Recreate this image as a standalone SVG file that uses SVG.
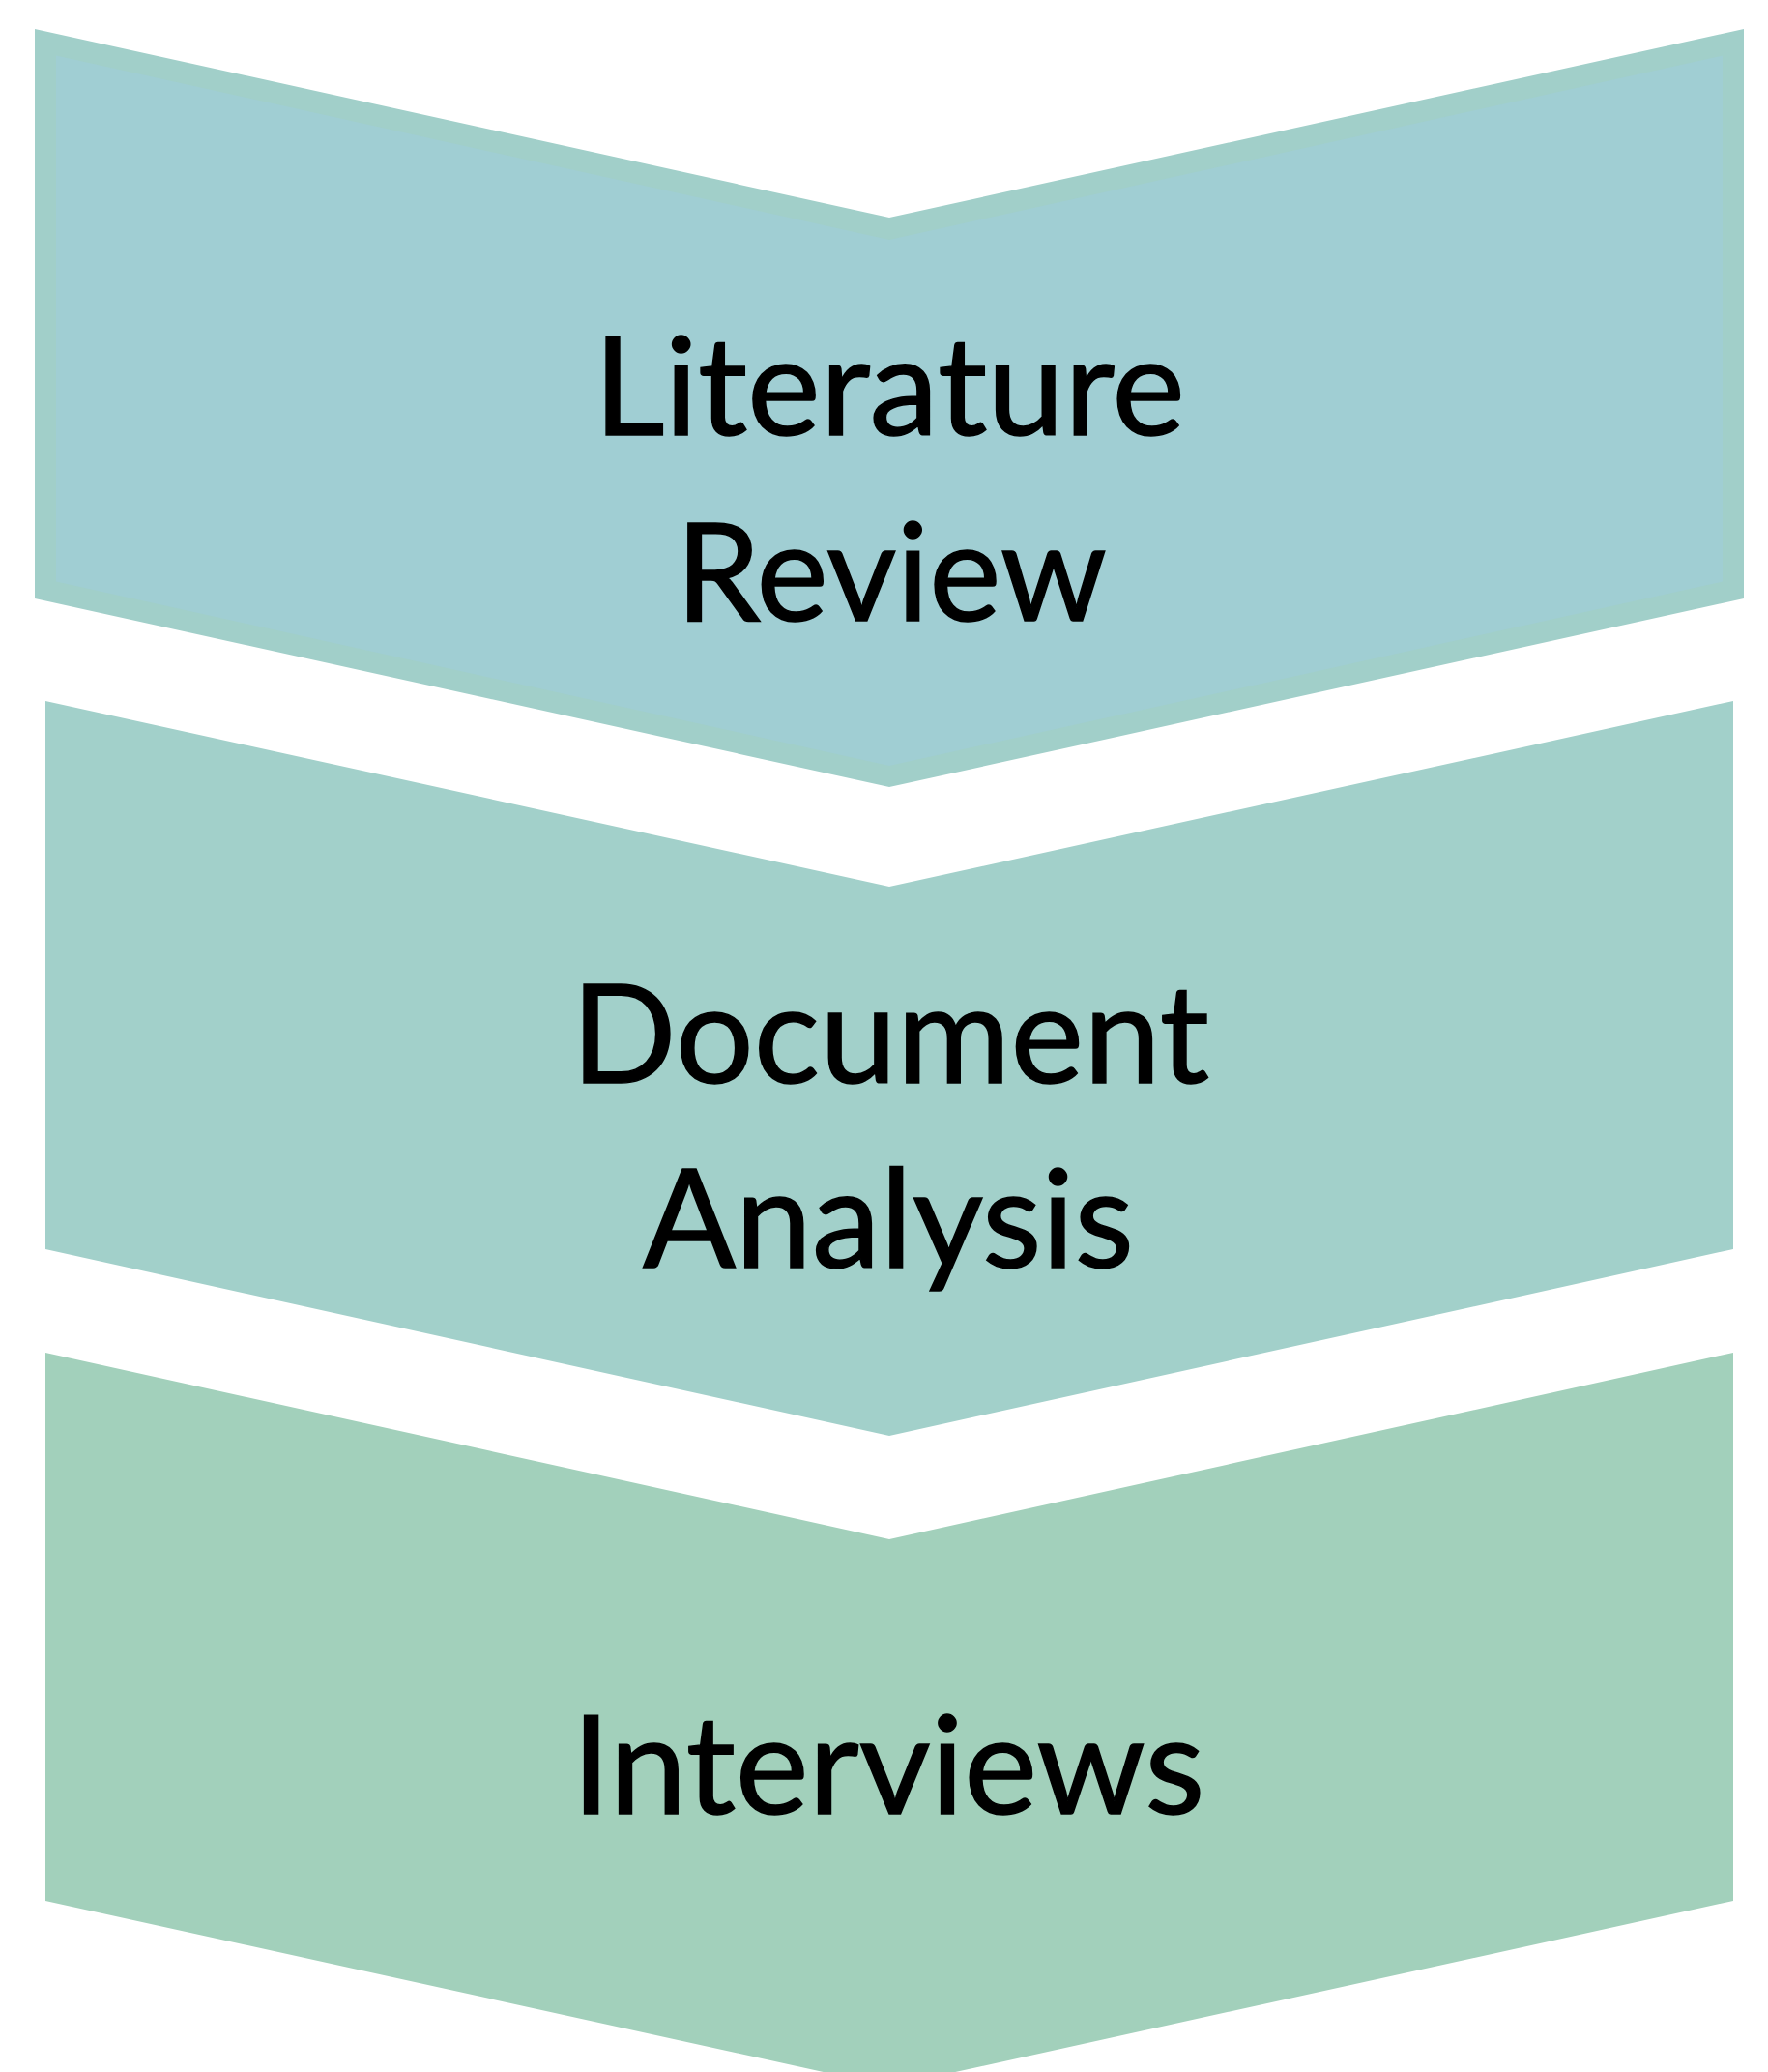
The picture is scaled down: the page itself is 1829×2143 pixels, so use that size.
<svg xmlns="http://www.w3.org/2000/svg" width="1829" height="2143" viewBox="0 0 1829 2143">
  <style>
    .label { font-family: Lato, "Open Sans", "Liberation Sans", sans-serif; font-size: 142px; fill: #000000; stroke: #000000; stroke-width: 1.5px; text-anchor: middle; }
  </style>
  <rect x="0" y="0" width="1829" height="2143" fill="#ffffff"/>
  <g id="node-literature-review">
    <polygon points="36,30 920,225 1804,30 1804,619 920,814 36,619" fill="#A1CFC9"/>
    <polygon points="58,57.5 920,248 1782,57.5 1782,601.5 920,792 58,601.5" fill="#A0CED3"/>
    <text class="label" x="920" y="450" textLength="612" lengthAdjust="spacingAndGlyphs">Literature</text>
    <text class="label" x="922" y="642" textLength="446" lengthAdjust="spacingAndGlyphs">Review</text>
  </g>
  <g id="node-document-analysis">
    <polygon points="47,725 920,917 1793,725 1793,1292 920,1485 47,1292" fill="#A2D0CA"/>
    <text class="label" x="921" y="1120" textLength="660" lengthAdjust="spacingAndGlyphs">Document</text>
    <text class="label" x="919" y="1311" textLength="508" lengthAdjust="spacingAndGlyphs">Analysis</text>
  </g>
  <g id="node-interviews">
    <polygon points="47,1399 920,1592 1793,1399 1793,1966 920,2158 47,1966" fill="#A2D0BB"/>
    <text class="label" x="919" y="1876" textLength="655" lengthAdjust="spacingAndGlyphs">Interviews</text>
  </g>
  <g id="connectors"/>
</svg>
